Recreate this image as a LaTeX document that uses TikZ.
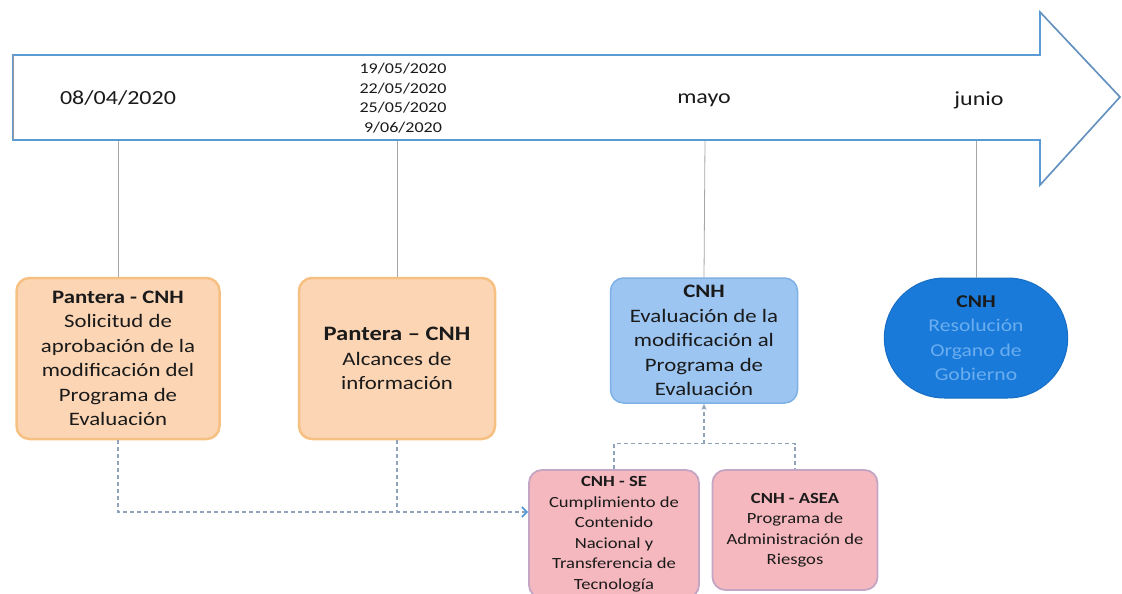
\documentclass[tikz,border=0pt]{standalone}
\usepackage{fontspec}
\setmainfont{Carlito}[FakeStretch=1.2]
\usetikzlibrary{arrows.meta,shapes.misc}
\definecolor{arrowblue}{HTML}{5B9BD5}
\definecolor{headedge}{HTML}{6C8FB8}
\definecolor{peachfill}{HTML}{FCD5B4}
\definecolor{peachedge}{HTML}{F7C083}
\definecolor{lbfill}{HTML}{9CC5F2}
\definecolor{lbedge}{HTML}{7EB0E6}
\definecolor{dbfill}{HTML}{1A7AD9}
\definecolor{dbtext}{HTML}{6AAEF0}
\definecolor{pinkfill}{HTML}{F5B8BE}
\definecolor{pinkedge}{HTML}{C4A6C4}
\definecolor{dashcol}{HTML}{8FA3BC}
\definecolor{txt}{HTML}{1A1A1A}
\tikzset{
  arrowline/.style={draw=arrowblue, line width=1.6pt, fill=white, line join=miter},
  datetxt/.style={font=\fontsize{20}{24}\selectfont, text=txt, align=center},
  smalldate/.style={font=\fontsize{15}{19.5}\selectfont, text=txt, align=center},
  tick/.style={draw=gray!70, line width=0.8pt},
  boxbase/.style={rounded corners=13pt, align=center, text=txt, inner sep=2pt},
  peachbox/.style={boxbase, fill=peachfill, draw=peachedge, line width=2.5pt, font=\fontsize{19}{24.5}\selectfont},
  lbbox/.style={boxbase, fill=lbfill, draw=lbedge, line width=1.5pt, font=\fontsize{19}{24.5}\selectfont},
  dbbox/.style={rounded rectangle, fill=dbfill, draw=dbfill!90!black, line width=1pt, align=center, text=dbtext, font=\fontsize{18}{24.5}\selectfont},
  pinkbox/.style={boxbase, fill=pinkfill, draw=pinkedge, line width=1.8pt, font=\fontsize{15.5}{20.5}\selectfont},
  dashconn/.style={draw=dashcol, line width=1.1pt, dash pattern=on 4pt off 3pt},
}
\begin{document}
\begin{tikzpicture}[x=1pt,y=-1pt]
\useasboundingbox (0,0) rectangle (1122,594);
% timeline arrow
\draw[arrowline] (13,55) -- (1040,55) -- (1040,12) -- (1120,97) -- (1040,185) -- (1040,140) -- (13,140) -- cycle;
\draw[headedge, line width=1pt] (1040,12) -- (1120,97) -- (1040,185);
\draw[gray!80, line width=1pt] (13,55) -- (13,140);
\node[datetxt] (d1) at (118,98) {08/04/2020};
\node[smalldate] (d2) at (403,98) {19/05/2020\\22/05/2020\\25/05/2020\\9/06/2020};
\node[datetxt] (d3) at (704,100) {mayo};
\node[datetxt] (d4) at (979,100) {junio};
\coordinate (t1) at (118,141);
\coordinate (t2) at (397,141);
\coordinate (t3) at (705,141);
\coordinate (t4) at (976,141);
% boxes
\node[peachbox, minimum width=203pt, minimum height=161pt] (b1) at (118,358.5)
  {\textbf{Pantera - CNH}\\Solicitud de\\aprobación de la\\modificación del\\Programa de\\Evaluación};
\node[peachbox, minimum width=196pt, minimum height=161pt] (b2) at (397,358.5)
  {{\fontsize{20.5}{24.5}\selectfont\textbf{Pantera – CNH}}\\Alcances de\\información};
\node[lbbox, minimum width=187pt, minimum height=125pt] (b3) at (704,340.5)
  {\textbf{CNH}\\Evaluación de la\\modificación al\\Programa de\\Evaluación};
\node[dbbox, minimum width=190pt, minimum height=120pt] (b4) at (976,338)
  {\textcolor{txt}{\textbf{CNH}}\\Resolución\\Organo de\\Gobierno};
\node[pinkbox, minimum width=170pt, minimum height=128pt] (b5) at (614,534)
  {\textbf{CNH - SE}\\Cumplimiento de\\Contenido\\Nacional y\\Transferencia de\\Tecnología};
\node[pinkbox, minimum width=165pt, minimum height=120pt] (b6) at (795,530)
  {\textbf{CNH - ASEA}\\Programa de\\Administración de\\Riesgos};
% ticks
\draw[tick] (t1) -- (b1.north);
\draw[tick] (t2) -- (b2.north);
\draw[tick] (t3) -- (b3.north);
\draw[tick] (t4) -- (b4.north);
% dashed connectors
\coordinate (m) at ([yshift=22pt]b5.west);
\coordinate (top) at ([yshift=-40pt]b3.south);
\draw[dashconn, -{Straight Barb[length=5pt,width=10pt,line width=1.8pt,color=arrowblue]}] (b1.south) |- (m);
\draw[dashconn] (b2.south) -- (b2.south |- m);
\draw[dashconn] (b5.north) |- (top) -| (b6.north);
\draw[dashconn, -{Stealth[length=6pt,width=5pt]}] (top) -- (b3.south);
\end{tikzpicture}
\end{document}
